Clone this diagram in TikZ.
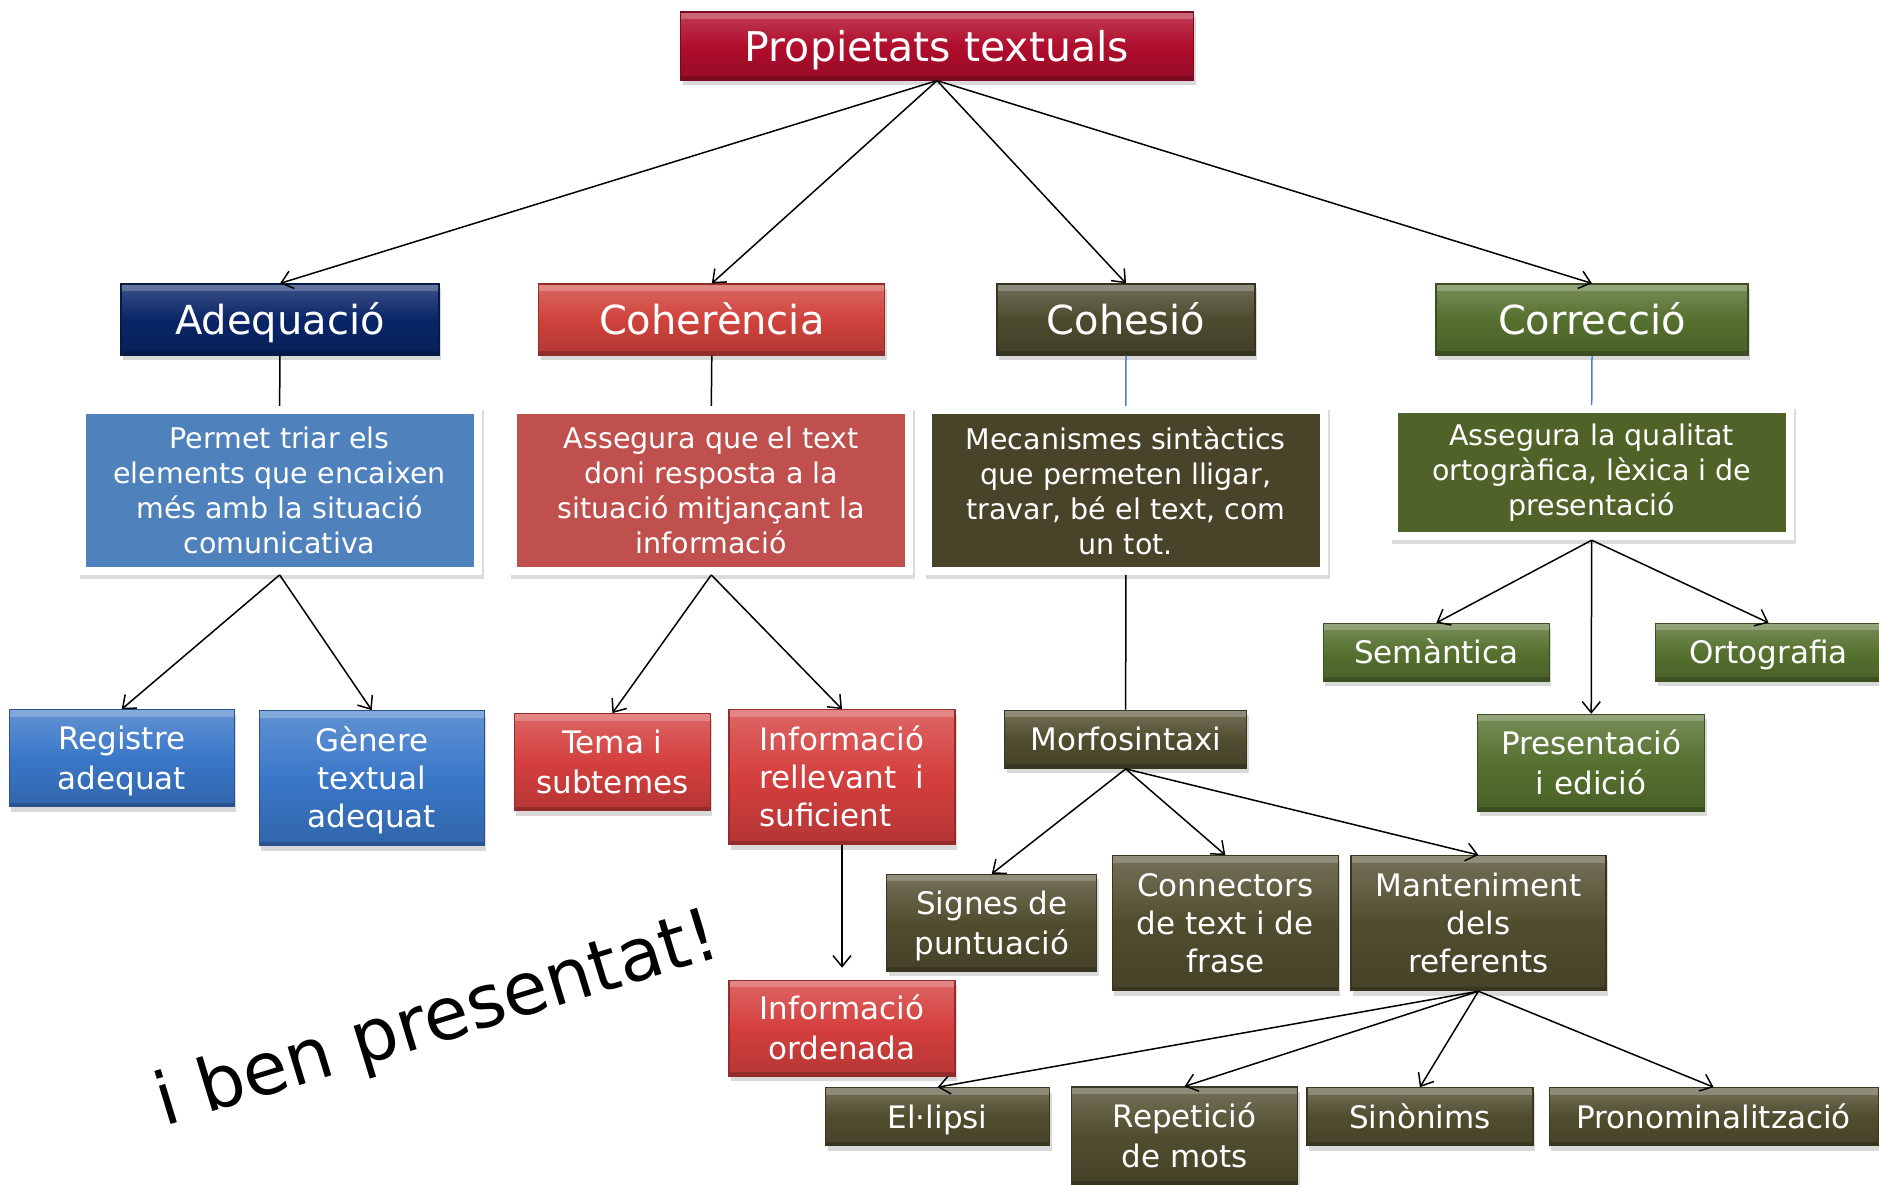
\documentclass[tikz,border=0pt]{standalone}
\usepackage{fontspec}
\setmainfont{DejaVu Sans}
\usetikzlibrary{arrows.meta,shadows}
\definecolor{ctitle}{HTML}{B00D2C}
\definecolor{cadeq}{HTML}{0A2668}
\definecolor{ccoher}{HTML}{D0423C}
\definecolor{ccohes}{HTML}{4C4A2E}
\definecolor{ccorr}{HTML}{56702F}
\definecolor{dadeq}{HTML}{4F81BD}
\definecolor{dcoher}{HTML}{C0504D}
\definecolor{dcohes}{HTML}{494429}
\definecolor{dcorr}{HTML}{4F6228}
\definecolor{lblue}{HTML}{3A77C8}
\definecolor{lred}{HTML}{D43F3E}
\definecolor{lolive}{HTML}{504D2F}
\definecolor{lgreen}{HTML}{56712F}
\definecolor{linkblue}{HTML}{4F81BD}
\newcommand{\lstr}{\rule[-8pt]{0pt}{38.6pt}}
\newcommand{\bstr}{\rule[-9pt]{0pt}{47.2pt}}
\newcommand{\tstr}{\rule[-9pt]{0pt}{48pt}}
\begin{document}
\begin{tikzpicture}[x=1pt,y=-1pt,
  box/.style={rectangle, inner sep=0pt, text=white, draw=#1!70!black, line width=1.2pt,
    top color=#1!80!white, bottom color=#1!85!black, middle color=#1,
    drop shadow={shadow xshift=2pt,shadow yshift=-5pt,opacity=0.3},
    path picture={\fill[white,opacity=0.22] (path picture bounding box.north west) rectangle ([yshift=-7pt]path picture bounding box.north east);
                  \fill[black,opacity=0.18] (path picture bounding box.south west) rectangle ([yshift=4pt]path picture bounding box.south east);}},
  lvltwo/.style={box=#1, minimum height=71pt, font=\fontsize{40}{48}\selectfont},
  lvlthree/.style={box=#1, align=center, font=\fontsize{31}{38}\selectfont},
  descbox/.style={rectangle, inner sep=0pt, fill=#1, draw=white, line width=8pt, text=white,
    align=center, font=\fontsize{28.5}{35}\selectfont, minimum width=396pt, minimum height=161pt,
    preaction={draw=black!14, fill=black!14, transform canvas={xshift=2pt,yshift=-4pt}}},
  arr/.style={-{Straight Barb[length=11pt,width=18pt]}, line width=1.5pt},
  plainline/.style={line width=1.5pt},
  blueline/.style={line width=1.5pt, draw=linkblue},
  slanted/.style={rotate=17, font=\fontsize{73}{84}\selectfont}
]
\useasboundingbox (0,0) rectangle (1879,1184);

% title
\node[box=ctitle, minimum width=513pt, minimum height=68pt, font=\fontsize{41}{48}\selectfont] (title) at (937,46) {\tstr Propietats textuals};

% level 2
\node[lvltwo=cadeq, minimum width=318pt] (adeq) at (280,319.5) {\bstr Adequació};
\node[lvltwo=ccoher, minimum width=346pt] (coher) at (711.8,319.5) {\bstr Coherència};
\node[lvltwo=ccohes, minimum width=258pt] (cohes) at (1126,319.5) {\bstr Cohesió};
\node[lvltwo=ccorr, minimum width=312pt] (corr) at (1592,319.5) {\bstr Correcció};

% descriptions
\node[descbox=dadeq] (adeqd) at (279.6,490.4) {Permet triar els\\elements que encaixen\\més amb la situació\\comunicativa};
\node[descbox=dcoher] (coherd) at (711.3,490.4) {Assegura que el text\\doni resposta a la\\situació mitjançant la\\informació};
\node[descbox=dcohes] (cohesd) at (1125.8,490.4) {Mecanismes sintàctics\\que permeten lligar,\\travar, bé el text, com\\un tot.};
\node[descbox=dcorr, minimum height=127pt] (corrd) at (1591.7,472.7) {Assegura la qualitat\\ortogràfica, lèxica i de\\presentació};

% level 3
\node[lvlthree=lblue, minimum width=225pt, minimum height=97pt] (reg) at (121.7,758.3) {\lstr Registre\\adequat\lstr};
\node[lvlthree=lblue, minimum width=225pt, minimum height=135pt] (gen) at (371.7,778.2) {\lstr Gènere\\textual\\adequat\lstr};
\node[lvlthree=lred, minimum width=196pt, minimum height=97pt] (tema) at (612.4,762.2) {\lstr Tema i\\subtemes\lstr};
\node[lvlthree=lred, minimum width=226pt, minimum height=135pt, align=left] (infrel) at (842,777.3) {\lstr Informació\\ rellevant~~i\\ suficient\lstr};
\node[lvlthree=lred, minimum width=226pt, minimum height=96pt] (inford) at (842,1028.3) {\lstr Informació\\ordenada\lstr};
\node[lvlthree=lolive, minimum width=242pt, minimum height=58pt] (morf) at (1125.7,739.3) {\lstr Morfosintaxi};
\node[lvlthree=lgreen, minimum width=226pt, minimum height=58pt] (sem) at (1436.4,652.4) {\lstr Semàntica};
\node[lvlthree=lgreen, minimum width=226pt, minimum height=58pt] (orto) at (1768.6,652.4) {\lstr Ortografia};
\node[lvlthree=lgreen, minimum width=227pt, minimum height=97pt] (pres) at (1591.2,762.9) {\lstr Presentació\\i edició\lstr};
\node[lvlthree=lolive, minimum width=210pt, minimum height=97pt] (signes) at (991.8,922.9) {\lstr Signes de\\puntuació\lstr};
\node[lvlthree=lolive, minimum width=226pt, minimum height=135pt] (conn) at (1225.3,923.1) {\lstr Connectors\\de text i de\\frase\lstr};
\node[lvlthree=lolive, minimum width=255pt, minimum height=135pt] (mant) at (1478.4,923.1) {\lstr Manteniment\\dels\\referents\lstr};
\node[lvlthree=lolive, minimum width=224pt, minimum height=58pt] (elip) at (937.6,1116.8) {\lstr El·lipsi};
\node[lvlthree=lolive, minimum width=226pt, minimum height=98pt] (rep) at (1184.6,1136) {\lstr Repetició\\de mots\lstr};
\node[lvlthree=lolive, minimum width=226pt, minimum height=58pt] (sin) at (1419.9,1116.8) {\lstr Sinònims};
\node[lvlthree=lolive, minimum width=329pt, minimum height=58pt] (pron) at (1713.6,1116.8) {\lstr Pronominalització};

% slanted text
\node[slanted, text=black] (iben) at (438,1022) {i ben presentat!};

% connectors
\draw[arr] (title.south) -- (adeq.north);
\draw[arr] (title.south) -- (coher.north);
\draw[arr] (title.south) -- (cohes.north);
\draw[arr] (title.south) -- (corr.north);

\draw[plainline] (adeq.south) -- (adeqd.north);
\draw[plainline] (coher.south) -- (coherd.north);
\draw[blueline] (cohes.south) -- (cohesd.north);
\draw[blueline] (corr.south) -- (corrd.north);

\draw[arr] (adeqd.south) -- (reg.north);
\draw[arr] (adeqd.south) -- (gen.north);
\draw[arr] (coherd.south) -- (tema.north);
\draw[arr] (coherd.south) -- (infrel.north);
\draw[arr, shorten >=12pt] (infrel.south) -- (inford.north);
\draw[plainline] (cohesd.south) -- (morf.north);

\draw[arr] (corrd.south) -- (sem.north);
\draw[arr] (corrd.south) -- (pres.north);
\draw[arr] (corrd.south) -- (orto.north);

\draw[arr] (morf.south) -- (signes.north);
\draw[arr] (morf.south) -- (conn.north);
\draw[arr] (morf.south) -- (mant.north);

\draw[arr] (mant.south) -- (elip.north);
\draw[arr] (mant.south) -- (rep.north);
\draw[arr] (mant.south) -- (sin.north);
\draw[arr] (mant.south) -- (pron.north);
\end{tikzpicture}
\end{document}
